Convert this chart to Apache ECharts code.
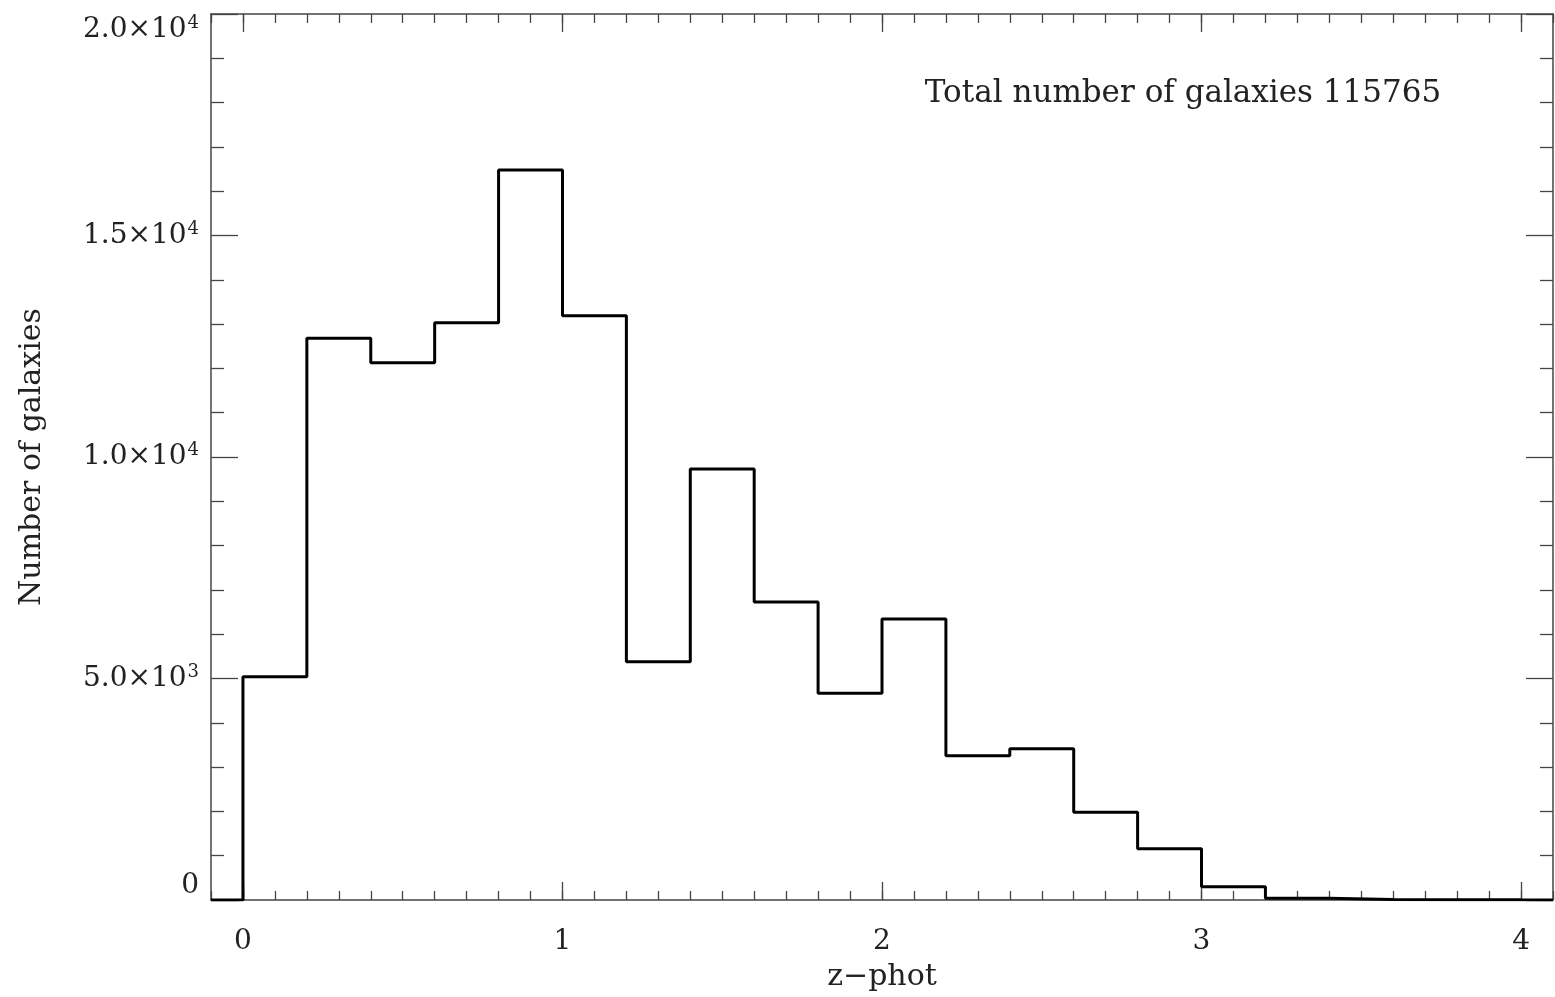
<!DOCTYPE html>
<html>
<head>
<meta charset="utf-8">
<script src="https://cdn.jsdelivr.net/npm/echarts@6/dist/echarts.min.js"></script>
<style>
  html, body { margin: 0; padding: 0; background: #fff; }
  #chart { width: 1555px; height: 997px; }
</style>
</head>
<body>
<div id="chart"></div>
<script>
// Histogram bin edges (z-phot) and counts per bin
const binEdges = [-0.1, 0.0, 0.2, 0.4, 0.6, 0.8, 1.0, 1.2, 1.4, 1.6, 1.8, 2.0, 2.2, 2.4, 2.6, 2.8, 3.0, 3.2, 3.4, 3.6, 3.8, 4.0, 4.1];
const binCounts = [0, 5040, 12680, 12130, 13030, 16480, 13190, 5380, 9730, 6725, 4665, 6345, 3255, 3415, 1980, 1155, 300, 40, 10, 6, 3, 2];
const xTickValues = [0, 1, 2, 3, 4];
const xTickLabels = ['0', '1', '2', '3', '4'];
const yTickLabels = {0: ['0', ''], 5000: ['5.0×10', '3'], 10000: ['1.0×10', '4'], 15000: ['1.5×10', '4'], 20000: ['2.0×10', '4']};
const annotation = 'Total number of galaxies 115765';
const xTitle = 'z\u2212phot';
const yTitle = 'Number of galaxies';

const FONT = 'DejaVu Serif';
const AX = '#444';
const TXT = '#222';

// minor tick positions every 0.1 across the x range
const xMinor = [];
for (let i = -1; i <= 41; i++) xMinor.push(i / 10);

const stepData = binEdges.map((e, i) => [e, binCounts[Math.min(i, binCounts.length - 1)]]);

function xAxisDef(pos, major, showLabel, showLine) {
  return {
    type: 'value', position: pos, min: -0.1, max: 4.1,
    axisLine: { show: showLine, onZero: false, lineStyle: { color: AX, width: 1.5 } },
    axisTick: { show: true, inside: true, length: major ? 18 : 9, customValues: major ? xTickValues : xMinor,
                lineStyle: { color: AX, width: 1.3 } },
    axisLabel: { show: showLabel, customValues: xTickValues, margin: 28,
                 formatter: (v) => xTickLabels[xTickValues.indexOf(v)],
                 fontFamily: FONT, fontSize: 28, color: TXT },
    splitLine: { show: false },
    name: showLabel && major ? xTitle : '', nameLocation: 'middle', nameGap: 62,
    nameTextStyle: { fontFamily: FONT, fontSize: 30, color: TXT }
  };
}

function yAxisDef(pos, showLabel) {
  return {
    type: 'value', position: pos, min: 0, max: 20000, interval: 5000,
    axisLine: { show: true, onZero: false, lineStyle: { color: AX, width: 1.5 } },
    axisTick: { show: true, inside: true, length: 27, lineStyle: { color: AX, width: 1.3 } },
    minorTick: { show: true, splitNumber: 5, length: 13, lineStyle: { color: AX, width: 1.3 } },
    axisLabel: { show: showLabel, margin: 12,
                 verticalAlignMinLabel: 'bottom', verticalAlignMaxLabel: 'top',
                 formatter: (v) => { const t = yTickLabels[v]; return t[1] ? '{b|' + t[0] + '}{s|' + t[1] + '}' : '{b|' + t[0] + '}'; },
                 rich: {
                   b: { fontFamily: FONT, fontSize: 28, color: TXT },
                   s: { fontFamily: FONT, fontSize: 18, color: TXT, verticalAlign: 'top', padding: [0, 0, 13, 1] }
                 } },
    splitLine: { show: false },
    name: showLabel ? yTitle : '', nameLocation: 'middle', nameRotate: 90, nameGap: 164,
    nameTextStyle: { fontFamily: FONT, fontSize: 30, color: TXT }
  };
}

const chart = echarts.init(document.getElementById('chart'), null, { renderer: 'canvas' });
chart.setOption({
  animation: false,
  backgroundColor: '#fff',
  grid: { left: 211, right: 2, top: 14, bottom: 94, containLabel: false },
  xAxis: [
    xAxisDef('bottom', true, true, true),
    xAxisDef('bottom', false, false, false),
    xAxisDef('top', true, false, true),
    xAxisDef('top', false, false, false)
  ],
  yAxis: [ yAxisDef('left', true), yAxisDef('right', false) ],
  graphic: [{
    type: 'text', x: 1183, y: 94,
    style: { text: annotation, font: '31px "DejaVu Serif"', fill: TXT, align: 'center', verticalAlign: 'middle' }
  }],
  series: [{
    type: 'line', xAxisIndex: 0, yAxisIndex: 0,
    step: 'end', symbol: 'none', data: stepData,
    lineStyle: { color: '#000', width: 3 }
  }]
});
</script>
</body>
</html>
